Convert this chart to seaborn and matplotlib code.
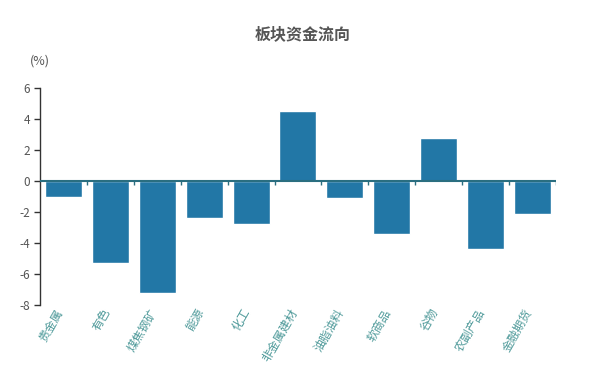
import matplotlib
matplotlib.use('Agg')
import matplotlib.pyplot as plt
import matplotlib.transforms as mtransforms
import seaborn as sns
import numpy as np
import pandas as pd

# data
sectors = ['贵金属', '有色', '煤焦钢矿', '能源', '化工', '非金属建材',
           '油脂油料', '软商品', '谷物', '农副产品', '金融期货']
flows = [-1.0, -5.3, -7.2, -2.4, -2.8, 4.5, -1.1, -3.4, 2.8, -4.4, -2.1]
y_ticks = [-8, -6, -4, -2, 0, 2, 4, 6]

sns.set_theme(style='white')
plt.rcParams['font.family'] = ['Noto Sans CJK SC', 'DejaVu Sans']
plt.rcParams['axes.unicode_minus'] = False

df = pd.DataFrame({'sector': sectors, 'flow': flows})

fig = plt.figure(figsize=(6.05, 3.79), dpi=100)
ax = fig.add_axes([0.066, 0.195, 0.853, 0.573])

sns.barplot(data=df, x='sector', y='flow', color='#2277a6', saturation=1,
            width=0.79, ax=ax)

ax.set_ylim(-8, 6)
ax.set_xlim(-0.5, len(sectors) - 0.5)
ax.set_yticks(y_ticks)
ax.set_yticklabels([str(t) for t in y_ticks], color='#555555', fontsize=8.5)
ax.tick_params(axis='y', length=4, width=1, color='#333333', left=True, pad=3)

for s in ['top', 'right', 'bottom']:
    ax.spines[s].set_visible(False)
ax.spines['left'].set_color('#333333')
ax.spines['left'].set_linewidth(1)

# zero line with category boundary ticks
ax.axhline(0, color='#2a6e80', lw=1.5, zorder=3)
bounds = np.arange(len(sectors) + 1) - 0.5
ax.vlines(bounds[1:], -0.28, 0, color='#2a6e80', lw=1, zorder=3)

ax.set_xlabel('')
ax.set_ylabel('')
ax.tick_params(axis='x', length=0, pad=1)
ax.set_xticks(range(len(sectors)))
ax.set_xticklabels(sectors, rotation=60, ha='right', rotation_mode='anchor',
                   color='#4f9a9a', fontsize=8.5)
shift = mtransforms.ScaledTranslation(-9 / 100, 0, fig.dpi_scale_trans)
for lbl in ax.get_xticklabels():
    lbl.set_transform(lbl.get_transform() + shift)

fig.text(0.5, 0.91, '板块资金流向', ha='center', va='center',
         fontsize=11.5, fontweight='bold', color='#555555')
fig.text(0.066, 0.84, '(%)', ha='center', va='center',
         fontsize=9, color='#555555')

fig.savefig('out.png', dpi=100)
